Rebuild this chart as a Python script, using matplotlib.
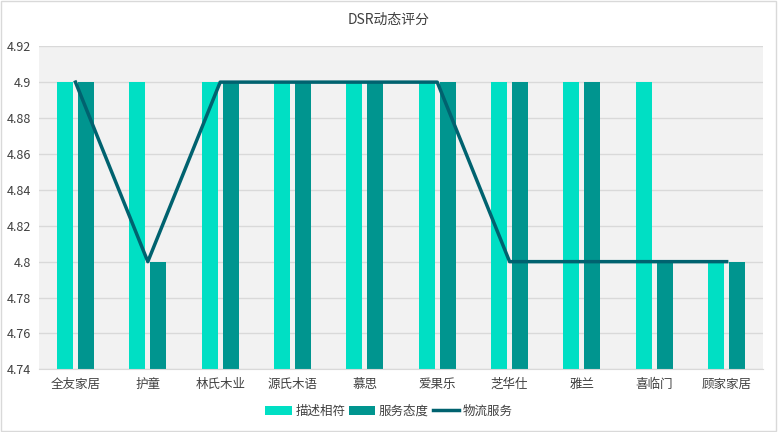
import matplotlib
matplotlib.use("Agg")
import matplotlib.pyplot as plt
import numpy as np
from matplotlib.patches import Rectangle

plt.rcParams['font.family'] = ['Noto Sans CJK SC', 'DejaVu Sans']

categories = ['全友家居', '护童', '林氏木业', '源氏木语', '慕思', '爱果乐', '芝华仕', '雅兰', '喜临门', '顾家家居']
desc = [4.9, 4.9, 4.9, 4.9, 4.9, 4.9, 4.9, 4.9, 4.9, 4.8]
service = [4.9, 4.8, 4.9, 4.9, 4.9, 4.9, 4.9, 4.9, 4.8, 4.8]
logistics = [4.9, 4.8, 4.9, 4.9, 4.9, 4.9, 4.8, 4.8, 4.8, 4.8]
yticks = [4.74, 4.76, 4.78, 4.8, 4.82, 4.84, 4.86, 4.88, 4.9, 4.92]
ytick_labels = ['4.74', '4.76', '4.78', '4.8', '4.82', '4.84', '4.86', '4.88', '4.9', '4.92']

fig = plt.figure(figsize=(7.78, 4.32), dpi=100)
fig.patches.append(Rectangle((0.001, 0.002), 0.997, 0.995, transform=fig.transFigure,
                             fill=False, edgecolor='#D9D9D9', linewidth=1))
ax = fig.add_axes([0.0505, 0.145, 0.930, 0.748])
ax.set_facecolor('#F2F2F2')

x = np.arange(len(categories))
bw = 0.221
off = 0.145
base = 4.74
b1 = ax.bar(x - off, np.array(desc) - base, bw, bottom=base, color='#00DFC4', label='描述相符', zorder=2)
b2 = ax.bar(x + off, np.array(service) - base, bw, bottom=base, color='#00958F', label='服务态度', zorder=2)
l1, = ax.plot(x, logistics, color='#00626F', linewidth=2.5, label='物流服务', zorder=3)

ax.set_xlim(-0.5, len(categories) - 0.5)
ax.set_ylim(4.74, 4.92)
ax.set_yticks(yticks)
ax.set_yticklabels(ytick_labels)
ax.set_xticks(x)
ax.set_xticklabels(categories)
ax.grid(axis='y', color='#D9D9D9', linewidth=1, zorder=0)
ax.set_axisbelow(True)
for s in ['top', 'right', 'left']:
    ax.spines[s].set_visible(False)
ax.spines['bottom'].set_color('#D9D9D9')
ax.tick_params(axis='both', length=0, labelsize=9, colors='#404040')
ax.tick_params(axis='x', pad=6)
ax.tick_params(axis='y', pad=6)

fig.text(0.5, 0.955, 'DSR动态评分', ha='center', va='center', fontsize=10, color='#404040')
leg = fig.legend([b1, b2, l1], ['描述相符', '服务态度', '物流服务'],
                 loc='center', bbox_to_anchor=(0.5, 0.048), ncol=3, frameon=False,
                 fontsize=9, handlelength=2.1, handleheight=0.8, handletextpad=0.3,
                 columnspacing=0.3, labelcolor='#404040')

fig.savefig('out.png', dpi=100)
